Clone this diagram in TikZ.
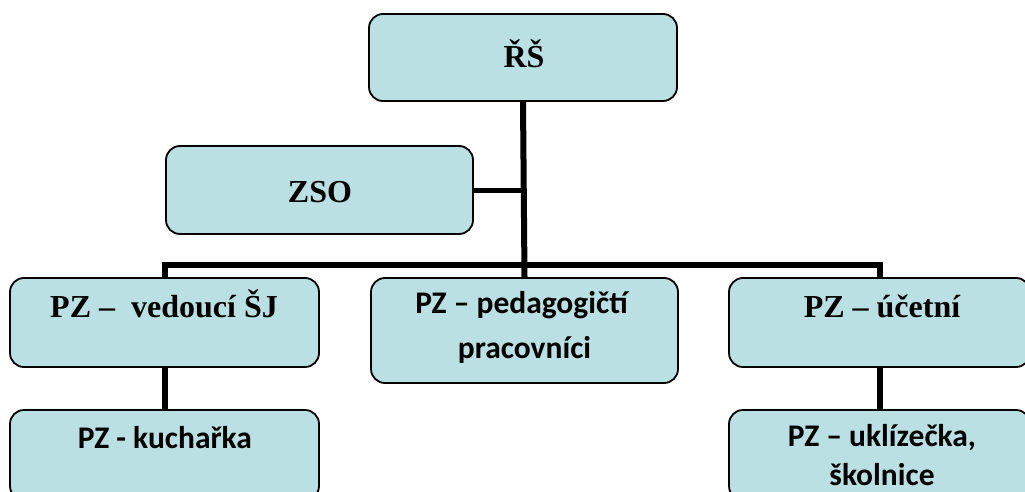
\documentclass[tikz,border=0pt]{standalone}
\usepackage{fontspec}
\setmainfont{Liberation Serif}
\newfontfamily\calib{Carlito}
\definecolor{boxfill}{RGB}{187,224,227}
\begin{document}
\begin{tikzpicture}[x=1pt,y=-1pt,
  box/.style={draw=black, line width=1.8pt, fill=boxfill, rounded corners=14pt, inner sep=0pt},
  conn/.style={line width=6pt, line cap=butt},
  tser/.style={font=\fontsize{32}{38}\selectfont\bfseries, inner sep=0pt},
  tsans/.style={font=\calib\fontsize{31.5}{38}\selectfont\bfseries, inner sep=0pt}]
\useasboundingbox (0,0) rectangle (1025,492);
\clip (0,0) rectangle (1025,492);
\fill[white] (0,0) rectangle (1025,492);
\coordinate (bar) at (524,265);
\node[box, minimum width=308pt, minimum height=87pt] (RS) at (523,57.5) {};
\node[box, minimum width=307pt, minimum height=88pt] (ZSO) at (319.5,190) {};
\node[box, minimum width=309pt, minimum height=89pt] (ved) at (164.5,322.5) {};
\node[box, minimum width=307pt, minimum height=105pt] (ped) at (524.5,330.5) {};
\node[box, minimum width=301pt, minimum height=89pt] (uce) at (879.5,322.5) {};
\node[box, minimum width=309pt, minimum height=90pt] (kuch) at (164.5,455) {};
\node[box, minimum width=301pt, minimum height=90pt] (ukl) at (879.5,455) {};
\draw[conn] (RS.south) -- (ped.north);
\draw[conn, line width=5pt] (ZSO.east) -- (ZSO.east -| RS.south);
\draw[conn] (ved.north) |- (bar) -| (uce.north);
\draw[conn] (ved.south) -- (kuch.north);
\draw[conn] (uce.south) -- (ukl.north);
% texts
\node[tser, anchor=base] (tRS) at (524,68) {ŘŠ};
\node[tser, anchor=base] (tZSO) at (320,202) {ZSO};
\node[tser, anchor=base] (tved) at (164,317) {PZ –\ \ vedoucí ŠJ};
\node[tser, anchor=base] (tuce) at (882,317) {PZ – účetní};
\node[tsans, anchor=base] (tped1) at (521.5,313) {PZ – pedagogičtí};
\node[tsans, anchor=base] (tped2) at (524.5,358) {pracovníci};
\node[tsans, anchor=base] (tkuch) at (165,448) {PZ - kuchařka};
\node[tsans, anchor=base] (tukl1) at (882,446) {PZ – uklízečka,};
\node[tsans, anchor=base] (tukl2) at (882,485) {školnice};
\end{tikzpicture}
\end{document}
